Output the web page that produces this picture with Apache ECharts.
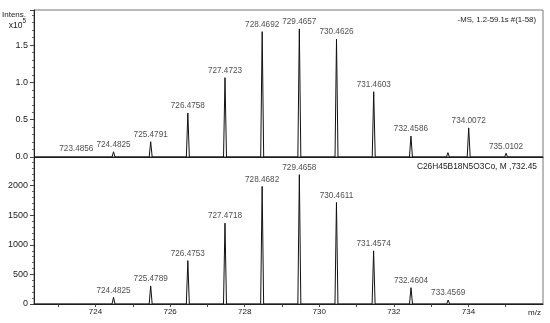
<!DOCTYPE html>
<html><head><meta charset="utf-8">
<script src="https://cdn.jsdelivr.net/npm/echarts@6/dist/echarts.min.js"></script>
<style>html,body{margin:0;padding:0;background:#fff}#c{width:550px;height:323px}</style>
</head><body><div id="c"></div>
<script>
// ---- data (top panel intensities in units of 1e5) ----
const topMz      = [723.4856, 724.4825, 725.4791, 726.4758, 727.4723, 728.4692, 729.4657, 730.4626, 731.4603, 732.4586, 734.0072, 735.0102];
const topIntens  = [0.02, 0.07, 0.205, 0.59, 1.063, 1.68, 1.716, 1.58, 0.875, 0.28, 0.39, 0.05];
const topSmallMz     = [733.45];
const topSmallIntens = [0.058];

const botMz      = [724.4825, 725.4789, 726.4753, 727.4718, 728.4682, 729.4658, 730.4611, 731.4574, 732.4604, 733.4569];
const botIntens  = [113, 305, 734, 1367, 1988, 2186, 1717, 898, 276, 68];
const botSmallMz     = [723.49];
const botSmallIntens = [25];

const xTickValues  = [723, 724, 725, 726, 727, 728, 729, 730, 731, 732, 733, 734, 735];
const xLabelValues = [724, 726, 728, 730, 732, 734];
const xMin = 722.35, xMax = 736.0;
const topMax = 1.97, botMax = 2485;

const topTitle = '-MS, 1.2-59.1s #(1-58)';
const botTitle = 'C26H45B18N5O3Co, M ,732.45';

// ---- build profile line from peak lists ----
const HW = 0.04;
function profile(mz, h, mz2, h2) {
  const pk = mz.map((m, i) => [m, h[i]]).concat(mz2.map((m, i) => [m, h2[i]]));
  pk.sort((a, b) => a[0] - b[0]);
  const pts = [[xMin, 0]];
  pk.forEach(([m, v]) => { pts.push([m - HW, 0], [m, v], [m + HW, 0]); });
  pts.push([xMax, 0]);
  return pts;
}

const FONT = 'Liberation Sans, Arial, Helvetica, sans-serif';
const TXT = '#1a1a1a';

const chart = echarts.init(document.getElementById('c'), null, {renderer: 'canvas'});
chart.setOption({
  animation: false,
  backgroundColor: '#fff',
  textStyle: {fontFamily: FONT, color: TXT},
  title: [
    {text: topTitle, right: 9, top: 11, textStyle: {fontSize: 7.8, fontWeight: 'normal', color: TXT, fontFamily: FONT}},
    {text: botTitle, right: 8, top: 158, textStyle: {fontSize: 8.4, fontWeight: 'normal', color: TXT, fontFamily: FONT}},
    {text: 'Intens.', right: 519, top: 6, textStyle: {fontSize: 8, fontWeight: 'normal', color: TXT, fontFamily: FONT}},
    {text: '{a|x10}{b|5}', right: 519, top: 13, textStyle: {fontWeight: 'normal', rich: {
      a: {fontSize: 8.5, fontWeight: 'normal', color: TXT, fontFamily: FONT, verticalAlign: 'bottom', padding: [3, 0, 0, 0]},
      b: {fontSize: 6.5, fontWeight: 'normal', color: TXT, fontFamily: FONT, verticalAlign: 'top'}}}}
  ],
  grid: [
    {left: 34, right: 7, top: 10, height: 147, show: true, borderColor: '#777', borderWidth: 1},
    {left: 34, right: 7, top: 157, height: 147, show: true, borderColor: '#777', borderWidth: 1}
  ],
  xAxis: [
    {type: 'value', gridIndex: 0, min: xMin, max: xMax,
     axisLine: {show: true, lineStyle: {color: '#222', width: 1}},
     axisTick: {show: false}, axisLabel: {show: false}, splitLine: {show: false}},
    {type: 'value', gridIndex: 1, min: xMin, max: xMax,
     axisLine: {show: true, lineStyle: {color: '#222', width: 1}},
     axisTick: {show: true, length: 3, customValues: xTickValues, lineStyle: {color: '#444'}},
     axisLabel: {show: true, customValues: xLabelValues, fontSize: 8, margin: 4, color: TXT, fontFamily: FONT},
     splitLine: {show: false},
     name: 'm/z', nameLocation: 'end', nameGap: -2,
     nameTextStyle: {fontSize: 8, color: TXT, fontFamily: FONT, align: 'right', verticalAlign: 'top', padding: [5, 0, 0, 0]}}
  ],
  yAxis: [
    {type: 'value', gridIndex: 0, min: 0, max: topMax, interval: 0.5,
     axisLine: {show: true, lineStyle: {color: '#222'}},
     axisTick: {show: true, length: 4, lineStyle: {color: '#444'}},
     minorTick: {show: true, splitNumber: 5, length: 2, lineStyle: {color: '#666'}},
     axisLabel: {fontSize: 9, margin: 6, color: TXT, fontFamily: FONT, showMaxLabel: false,
       formatter: v => v.toFixed(1)},
     splitLine: {show: false}},
    {type: 'value', gridIndex: 1, min: 0, max: botMax, interval: 500,
     axisLine: {show: true, lineStyle: {color: '#222'}},
     axisTick: {show: true, length: 4, lineStyle: {color: '#444'}},
     minorTick: {show: true, splitNumber: 5, length: 2, lineStyle: {color: '#666'}},
     axisLabel: {fontSize: 9, margin: 6, color: TXT, fontFamily: FONT, showMaxLabel: false,
       formatter: v => String(Math.round(v))},
     splitLine: {show: false}}
  ],
  series: [
    {type: 'line', xAxisIndex: 0, yAxisIndex: 0, data: profile(topMz, topIntens, topSmallMz, topSmallIntens),
     symbol: 'none', lineStyle: {color: '#111', width: 1}},
    {type: 'scatter', xAxisIndex: 0, yAxisIndex: 0, symbolSize: 0, silent: true,
     data: topMz.map((m, i) => [m, topIntens[i]]),
     label: {show: true, position: 'top', distance: 3, fontSize: 8.2, color: TXT, fontFamily: FONT,
       formatter: p => p.value[0].toFixed(4)}},
    {type: 'line', xAxisIndex: 1, yAxisIndex: 1, data: profile(botMz, botIntens, botSmallMz, botSmallIntens),
     symbol: 'none', lineStyle: {color: '#111', width: 1}},
    {type: 'scatter', xAxisIndex: 1, yAxisIndex: 1, symbolSize: 0, silent: true,
     data: botMz.map((m, i) => [m, botIntens[i]]),
     label: {show: true, position: 'top', distance: 3, fontSize: 8.2, color: TXT, fontFamily: FONT,
       formatter: p => p.value[0].toFixed(4)}}
  ]
});
</script></body></html>
